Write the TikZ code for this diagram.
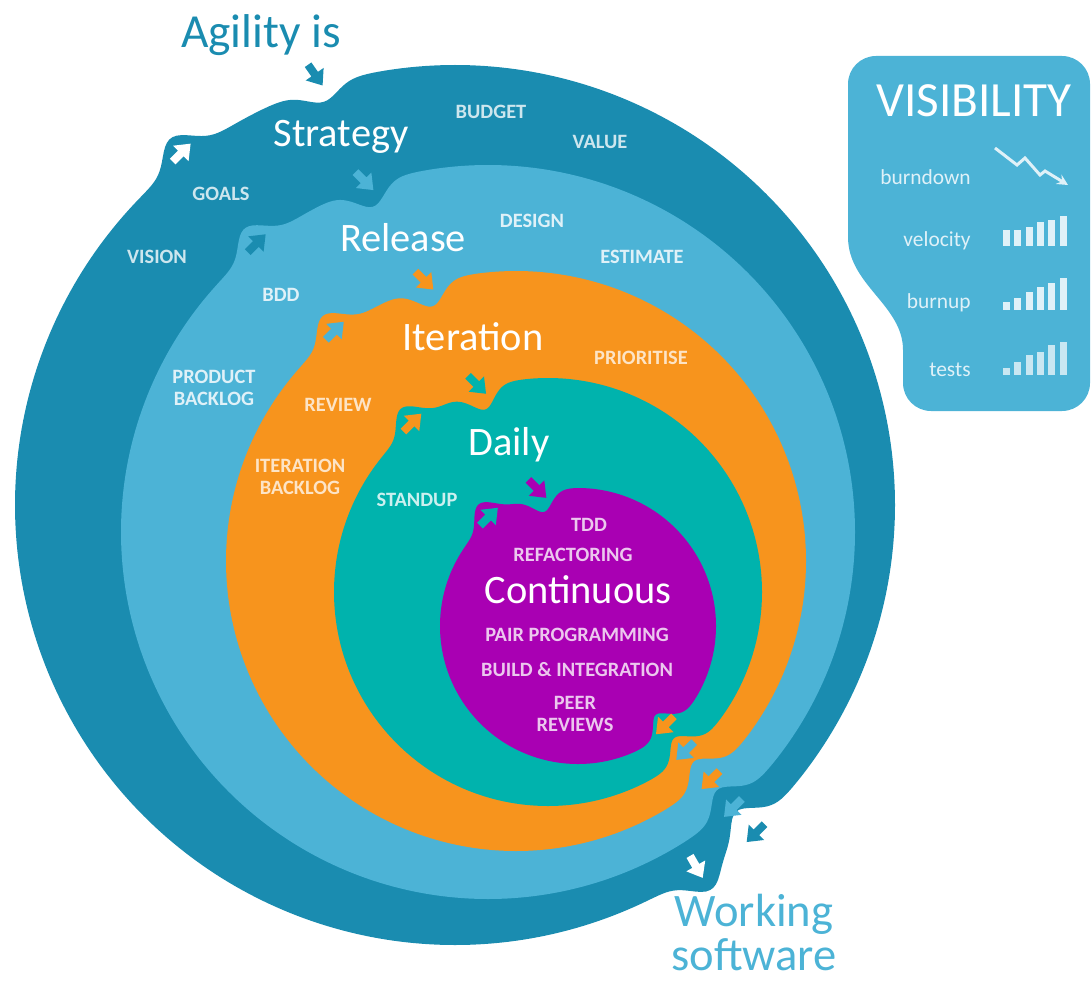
\documentclass[tikz,border=0pt]{standalone}
\usepackage{fontspec}
\setmainfont{Carlito}
\usepackage{xcolor}
\usepackage{tikz}
\definecolor{strat}{HTML}{1A8CB0}
\definecolor{rel}{HTML}{4CB3D6}
\definecolor{iter}{HTML}{F7941D}
\definecolor{daily}{HTML}{00B3AD}
\definecolor{cont}{HTML}{A900B3}
\tikzset{
  declare function={bmp(\q,\m,\w)=exp(0-pow(min(abs(\q-\m)/\w,7),2));},
  ring/.style={samples=721, domain=-180:180},
  head/.style={font=\fontsize{27}{25}\selectfont, anchor=base, align=center, inner sep=0pt},
  ttl/.style={text=white, font=\fontsize{23}{26}\selectfont, anchor=base},
  lab/.style={font=\bfseries\fontsize{11.6}{12.3}\selectfont, align=center},
  vis/.style={text=white!82!rel, font=\fontsize{12.2}{14}\selectfont, anchor=base east, inner sep=0pt},
  bar/.style={fill=white!82!rel},
  flow/.pic={\path[pic actions, scale=1.15] (-11,-3.5) -- (-1,-3.5) -- (-1,-9.5) -- (11,0) -- (-1,9.5) -- (-1,3.5) -- (-11,3.5) -- cycle;}
}
\begin{document}
\begin{tikzpicture}[x=0.02cm, y=0.02cm]
  \useasboundingbox (0,0) rectangle (1091,-983);
  \coordinate (cS) at (455,-505);
  \coordinate (cR) at (488,-532);
  \coordinate (cI) at (516,-561);
  \coordinate (cD) at (548,-592);
  \coordinate (cC) at (578,-626);

  % visibility panel
  \fill[rel] (876,-56) -- (1062,-56) arc[start angle=90, end angle=0, radius=28] -- (1090,-383)
    arc[start angle=0, end angle=-90, radius=28] -- (931,-411) arc[start angle=270, end angle=180, radius=28]
    -- (903,-350) .. controls (903,-305) and (848,-285) .. (848,-237) -- (848,-84)
    arc[start angle=180, end angle=90, radius=28] -- cycle;

  % rings, outer to inner, with notches and lobes
  \fill[strat, shift={(cS)}] plot[ring] (\x:{440-16*bmp(\x,108,3.1)+24*bmp(\x,127.8,3.1)-24*bmp(\x,-47.5,3.0)+22*bmp(\x,-56.3,3.0)}) -- cycle;
  \fill[rel, shift={(cR)}] plot[ring] (\x:{367-22*bmp(\x,109.4,3.4)+22*bmp(\x,128.7,3.4)-22*bmp(\x,-48.4,3.4)}) -- cycle;
  \fill[iter, shift={(cI)}] plot[ring] (\x:{290-22*bmp(\x,108.1,4.0)+22*bmp(\x,128.2,4.0)-22*bmp(\x,-48.4,4.0)}) -- cycle;
  \fill[daily, shift={(cD)}] plot[ring] (\x:{214-21*bmp(\x,108.9,4.8)+21*bmp(\x,128.7,4.8)-21*bmp(\x,-49.2,4.8)}) -- cycle;
  \fill[cont, shift={(cC)}] plot[ring] (\x:{138-19*bmp(\x,106.5,6.6)+19*bmp(\x,129.2,6.6)-20*bmp(\x,-48.8,6.6)}) -- cycle;

  % flow arrows
  \pic[fill=strat, rotate=-55] at ([shift={(108:452)}]cS) {flow};
  \pic[fill=white, rotate=45] at ([shift={(127.8:446)}]cS) {flow};
  \pic[fill=rel, rotate=-45] at ([shift={(109.4:372)}]cR) {flow};
  \pic[fill=strat, rotate=45] at ([shift={(128.7:370)}]cR) {flow};
  \pic[fill=iter, rotate=-45] at ([shift={(108.1:295)}]cI) {flow};
  \pic[fill=rel, rotate=45] at ([shift={(128.2:293)}]cI) {flow};
  \pic[fill=daily, rotate=-45] at ([shift={(108.9:219)}]cD) {flow};
  \pic[fill=iter, rotate=45] at ([shift={(128.7:217)}]cD) {flow};
  \pic[fill=cont, rotate=-45] at ([shift={(106.5:143)}]cC) {flow};
  \pic[fill=daily, rotate=45] at ([shift={(129.2:141)}]cC) {flow};
  \pic[fill=iter, rotate=-135] at ([shift={(-48.8:132)}]cC) {flow};
  \pic[fill=rel, rotate=-135] at ([shift={(-49.2:210)}]cD) {flow};
  \pic[fill=iter, rotate=-135] at ([shift={(-48.4:293)}]cI) {flow};
  \pic[fill=rel, rotate=-135] at ([shift={(-48.4:369)}]cR) {flow};
  \pic[fill=strat, rotate=-135] at ([shift={(-47.5:445)}]cS) {flow};
  \pic[fill=white, rotate=-60] at ([shift={(-56.3:435)}]cS) {flow};

  % headings
  \node[head, text=strat] (agility) at (261,-48) {Agility is};
  \node[head, text=rel, font=\fontsize{26.5}{25}\selectfont] (working) at (754,-970) {Working\\software};
  \node[head, text=white, font=\fontsize{28}{30}\selectfont] (visibility) at (974,-117) {VISIBILITY};
  \node[ttl] (strategy) at (341,-147) {Strategy};
  \node[ttl] (release) at (403,-251) {Release};
  \node[ttl] (iteration) at (473,-350) {Iteration};
  \node[ttl] (daily) at (509,-455) {Daily};
  \node[ttl] (continuous) at (578,-603) {Continuous};

  % practices
  \node[lab, text=white!78!strat] (budget) at (491,-112) {BUDGET};
  \node[lab, text=white!78!strat] (value) at (600,-142) {VALUE};
  \node[lab, text=white!78!strat] (goals) at (221,-194) {GOALS};
  \node[lab, text=white!78!strat] (vision) at (157,-257) {VISION};
  \node[lab, text=white!82!rel] (design) at (532,-221) {DESIGN};
  \node[lab, text=white!82!rel] (estimate) at (642,-257) {ESTIMATE};
  \node[lab, text=white!82!rel] (bdd) at (281,-295) {BDD};
  \node[lab, text=white!82!rel] (product) at (214,-388) {PRODUCT\\BACKLOG};
  \node[lab, text=white!75!iter] (prioritise) at (641,-358) {PRIORITISE};
  \node[lab, text=white!75!iter] (review) at (338,-405) {REVIEW};
  \node[lab, text=white!75!iter] (itback) at (300,-477) {ITERATION\\BACKLOG};
  \node[lab, text=white!80!daily] (standup) at (417,-500) {STANDUP};
  \node[lab, text=white!78!cont] (tdd) at (589,-525) {TDD};
  \node[lab, text=white!78!cont] (refactoring) at (573,-555) {REFACTORING};
  \node[lab, text=white!78!cont] (pair) at (577,-635) {PAIR PROGRAMMING};
  \node[lab, text=white!78!cont] (build) at (577,-670) {BUILD \& INTEGRATION};
  \node[lab, text=white!78!cont] (peer) at (575,-714) {PEER\\REVIEWS};

  % visibility measures
  \node[vis] (burndown) at (971,-185) {burndown};
  \node[vis] (velocity) at (971,-246) {velocity};
  \node[vis] (burnup) at (971,-308) {burnup};
  \node[vis] (tests) at (971,-376) {tests};
  \draw[white!82!rel, line width=1.7pt, -stealth] (995,-148) -- (1017,-165) -- (1025,-158) -- (1040,-175) -- (1045,-171) -- (1068,-185);
  \foreach \i/\h in {0/16,1/16,2/19,3/24,4/26,5/30} \fill[bar] (1003+\i*11.3,-246) rectangle ++(7,\h);
  \foreach \i/\h in {0/8,1/12,2/18,3/23,4/27,5/32} \fill[bar] (1003+\i*11.3,-310) rectangle ++(7,\h);
  \foreach \i/\h in {0/7,1/13,2/20,3/23,4/30,5/33} \fill[bar, opacity=0.85] (1003+\i*11.3,-375) rectangle ++(7,\h);
\end{tikzpicture}
\end{document}
